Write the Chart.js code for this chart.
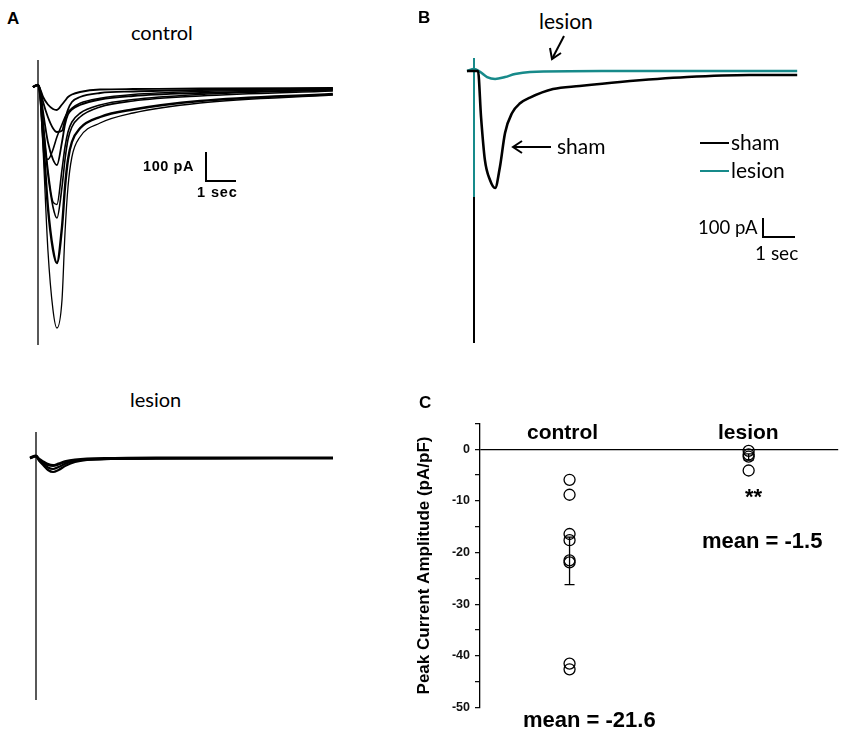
<!DOCTYPE html>
<html><head><meta charset="utf-8">
<script src="https://cdn.jsdelivr.net/npm/chart.js@4.4.1/dist/chart.umd.min.js"></script>
<style>
body{margin:0;background:#fff;}
#wrap{position:relative;width:850px;height:732px;overflow:hidden;font-family:'Liberation Sans',Arial,sans-serif;color:#000;}
canvas{position:absolute;}
.t{position:absolute;white-space:nowrap;line-height:1;}
.cal{font-family:Lato,'Open Sans',sans-serif;}
.b{font-weight:bold;}
.ln{position:absolute;background:#000;}
</style></head><body><div id="wrap">
<canvas id="cA" style="left:28px;top:50px" width="310" height="300"></canvas>
<canvas id="cL" style="left:26px;top:425px" width="310" height="280"></canvas>
<canvas id="cB" style="left:460px;top:50px" width="345" height="300"></canvas>
<canvas id="cC" style="left:405px;top:411px" width="440" height="309"></canvas>

<div class="t b" style="left:7px;top:10px;font-size:17px">A</div>
<div class="t b" style="left:418px;top:9px;font-size:17px">B</div>
<div class="t b" style="left:419px;top:394px;font-size:17px">C</div>

<div class="t cal" style="left:131px;top:22px;font-size:20px">control</div>
<div class="t cal" style="left:130px;top:389px;font-size:20px">lesion</div>

<div class="t b" style="left:143px;top:159px;font-size:14.5px;letter-spacing:0.6px">100 pA</div>
<div class="ln" style="left:205px;top:152px;width:1.5px;height:30px"></div>
<div class="ln" style="left:205px;top:180px;width:31px;height:1.5px"></div>
<div class="t b" style="left:197px;top:185px;font-size:14.5px;letter-spacing:0.9px">1 sec</div>

<div class="t cal" style="left:539px;top:10px;font-size:21px">lesion</div>
<div class="t cal" style="left:557px;top:135px;font-size:21px">sham</div>
<svg style="position:absolute;left:0;top:0" width="850" height="732">
  <g stroke="#000" stroke-width="2" fill="none">
    <line x1="564" y1="36" x2="552" y2="59"/>
    <polyline points="550,48 552,59 561,53"/>
    <line x1="551" y1="147" x2="513" y2="147"/>
    <polyline points="522,141 513,147 522,153"/>
  </g>
</svg>
<div class="ln" style="left:700px;top:142px;width:29px;height:2px"></div>
<div class="t cal" style="left:731px;top:131px;font-size:21px">sham</div>
<div class="ln" style="left:700px;top:170px;width:29px;height:2px;background:#178a8a"></div>
<div class="t cal" style="left:731px;top:159px;font-size:21px">lesion</div>
<div class="t cal" style="left:698px;top:218px;font-size:18.5px">100 pA</div>
<div class="ln" style="left:762px;top:218px;width:2px;height:20px"></div>
<div class="ln" style="left:762px;top:236px;width:33px;height:2px"></div>
<div class="t cal" style="left:755px;top:243px;font-size:19px">1 sec</div>

<div class="t b" style="left:527px;top:421px;font-size:21px">control</div>
<div class="t b" style="left:718px;top:421px;font-size:21px">lesion</div>
<div class="t b" style="left:745px;top:486px;font-size:22px">**</div>
<div class="t b" style="left:702px;top:530px;font-size:22px">mean = -1.5</div>
<div class="t b" style="left:523px;top:709px;font-size:22px">mean = -21.6</div>
</div>
<script>
// ---------- Panel A (control): time (s) and current (pA) ----------
const ctrlTime = [-0.17, 0, 0.08, 0.17, 0.33, 0.5, 0.63, 0.8, 0.9, 1.0, 1.13, 1.4, 2.07, 3.17, 5.4, 9.83];
const ctrlTrace1 = [0, 8, -60, -252, -652, -892, -964, -852, -584, -400, -280, -200, -144, -104, -64, -32];
const ctrlTrace2 = [0, 8, -40, -200, -480, -650, -704, -560, -400, -290, -220, -165, -120, -90, -56, -28];
const ctrlTrace3 = [0, 8, -30, -150, -350, -480, -524, -400, -290, -210, -160, -120, -80, -56, -36, -16];
const ctrlTrace4 = [0, 8, -30, -140, -330, -460, -470, -330, -240, -180, -140, -105, -72, -50, -30, -12];
const ctrlTrace5 = [0, 8, -20, -100, -220, -290, -312, -220, -150, -110, -90, -72, -50, -36, -24, -10];
const ctrlTrace6 = [0, 8, -15, -60, -120, -165, -180, -175, -130, -90, -60, -40, -24, -18, -12, -6];
const ctrlTrace7 = [0, 8, -10, -40, -70, -88, -92, -70, -55, -40, -30, -20, -10, -8, -6, -4];
const ctrlTrace8 = [0, 8, -40, -200, -290, -250, -200, -150, -120, -100, -85, -65, -45, -30, -18, -8];
const ctrlArtifact = [108, -1032];

// ---------- Panel A (lesion) ----------
const lesTime = [-0.2, 0, 0.1, 0.25, 0.4, 0.57, 0.75, 1.0, 1.3, 1.7, 2.5, 4, 6, 8, 9.9];
const lesTrace1 = [0, 8, -10, -30, -48, -56, -48, -30, -16, -8, -4, -2, -2, 0, 0];
const lesTrace2 = [0, 8, -8, -24, -38, -44, -36, -22, -12, -6, -3, -2, 0, 0, 0];
const lesTrace3 = [0, 8, -5, -16, -26, -30, -24, -14, -8, -4, -2, 0, 0, 0, 0];
const lesArtifact = [104, -968];

// ---------- Panel B ----------
const shamTime = [-0.22, 0, 0.125, 0.22, 0.34, 0.5, 0.66, 0.81, 0.97, 1.19, 1.44, 1.75, 2.47, 3.3, 4.56, 6.66, 8.6, 10.1];
const shamCurrent = [0, 0, 0, -242, -468, -574, -616, -505, -326, -221, -170, -140, -95, -79, -58, -32, -21, -21];
const lesionBTime = [-0.22, 0, 0.19, 0.41, 0.66, 0.97, 1.28, 1.75, 4, 10.1];
const lesionBCurrent = [0, 10, -5, -32, -42, -32, -16, -5, 0, 0];
const bArtifactTeal = [68, -663];
const bArtifactBlack = [-663, -1432];

// ---------- Panel C ----------
const groups = ['control', 'lesion'];
const controlValues = [-5.9, -8.8, -16.4, -17.6, -21.5, -21.9, -41.5, -42.6];
const lesionValues = [-0.3, -1.0, -1.4, -4.1];
const groupMeans = [-21.6, -1.5];
const groupSEM = [4.6, 0.6];
const yTicksC = [0, -10, -20, -30, -40, -50];

const TEAL = '#178a8a';
const zip = (t, v) => t.map((x, i) => ({x, y: v[i]}));
const vert = (v) => v.map(y => ({x: 0, y}));

function traceDS(t, v, w, color) {
  return {data: zip(t, v), borderColor: color || '#000', borderWidth: w, pointRadius: 0,
          cubicInterpolationMode: 'monotone', fill: false, clip: false};
}
function lineDS(pts, w, color) {
  return {data: pts, borderColor: color || '#000', borderWidth: w, pointRadius: 0, tension: 0, fill: false, clip: false};
}
function traceChart(id, datasets, xr, yr) {
  return new Chart(document.getElementById(id), {
    type: 'line',
    data: {datasets},
    options: {
      responsive: false, animation: false, events: [],
      layout: {padding: 0},
      plugins: {legend: {display: false}, tooltip: {enabled: false}},
      scales: {
        x: {type: 'linear', display: false, min: xr[0], max: xr[1]},
        y: {type: 'linear', display: false, min: yr[0], max: yr[1]}
      }
    }
  });
}

traceChart('cA', [
  traceDS(ctrlTime, ctrlTrace1, 1.3), traceDS(ctrlTime, ctrlTrace2, 2.4),
  traceDS(ctrlTime, ctrlTrace3, 1.6), traceDS(ctrlTime, ctrlTrace4, 1.6),
  traceDS(ctrlTime, ctrlTrace5, 1.8), traceDS(ctrlTime, ctrlTrace6, 1.8),
  traceDS(ctrlTime, ctrlTrace7, 1.8), traceDS(ctrlTime, ctrlTrace8, 1.6),
  lineDS(vert(ctrlArtifact), 1.3)
], [-0.3333, 10], [-1052, 148]);

traceChart('cL', [
  traceDS(lesTime, lesTrace1, 2.2), traceDS(lesTime, lesTrace2, 2.2), traceDS(lesTime, lesTrace3, 3),
  lineDS(vert(lesArtifact), 1.3)
], [-0.3333, 10], [-988, 132]);

traceChart('cB', [
  lineDS(vert(bArtifactBlack), 2),
  traceDS(shamTime, shamCurrent, 2.6),
  lineDS(vert(bArtifactTeal), 2, TEAL),
  traceDS(lesionBTime, lesionBCurrent, 2.6, TEAL)
], [-0.4375, 10.34375], [-1468.4, 110.5]);

const errorBars = {
  id: 'errorBars',
  afterDatasetsDraw(chart) {
    const {ctx, scales: {x, y}} = chart;
    ctx.save();
    ctx.strokeStyle = '#000'; ctx.lineWidth = 1.3;
    groupMeans.forEach((m, i) => {
      const px = x.getPixelForValue(i);
      const t = y.getPixelForValue(m + groupSEM[i]);
      const b = y.getPixelForValue(m - groupSEM[i]);
      ctx.beginPath();
      ctx.moveTo(px, t); ctx.lineTo(px, b);
      ctx.moveTo(px - 5, t); ctx.lineTo(px + 5, t);
      ctx.moveTo(px - 5, b); ctx.lineTo(px + 5, b);
      ctx.stroke();
    });
    ctx.restore();
  }
};

const ptStyle = {showLine: false, pointRadius: 5.5, pointBorderWidth: 1.3, pointBorderColor: '#000',
                 pointBackgroundColor: 'rgba(0,0,0,0)', clip: false};
new Chart(document.getElementById('cC'), {
  type: 'line',
  data: {
    labels: groups,
    datasets: [
      Object.assign({data: controlValues.map(v => ({x: groups[0], y: v}))}, ptStyle),
      Object.assign({data: lesionValues.map(v => ({x: groups[1], y: v}))}, ptStyle)
    ]
  },
  options: {
    responsive: false, animation: false, events: [],
    layout: {padding: {top: 10, right: 5, bottom: 4, left: 0}},
    plugins: {legend: {display: false}, tooltip: {enabled: false}},
    scales: {
      x: {type: 'category', display: false, offset: true},
      y: {
        min: -50, max: 5,
        afterFit(s) { s.width = 75; },
        border: {display: true, color: '#000', width: 1.3},
        grid: {drawOnChartArea: true, drawTicks: true, tickLength: 5, tickWidth: 1.2,
               tickColor: '#000', lineWidth: 1.3,
               color: c => (c.tick && c.tick.value === 0) ? '#000' : 'rgba(0,0,0,0)'},
        ticks: {stepSize: 5, padding: 5, color: '#111',
                font: {family: 'Liberation Sans', size: 12.5, weight: 'bold'},
                callback: v => yTicksC.includes(v) ? String(v) : ''},
        title: {display: true, text: 'Peak Current Amplitude (pA/pF)', color: '#000',
                font: {family: 'Liberation Sans', size: 17, weight: 'bold'}, padding: {top: 9, bottom: 4}}
      }
    }
  },
  plugins: [errorBars]
});
</script>
</body></html>
